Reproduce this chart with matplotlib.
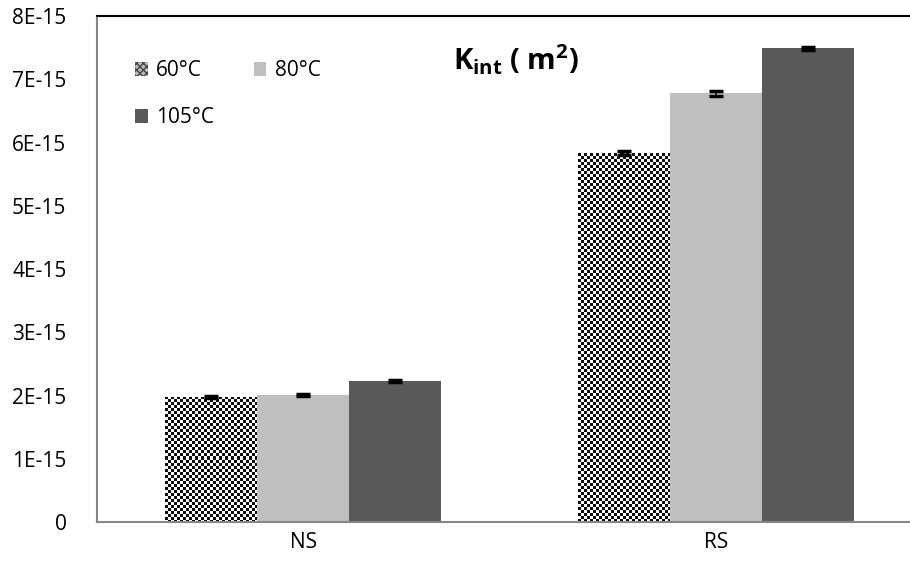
import matplotlib
matplotlib.use("Agg")
import matplotlib.pyplot as plt
import numpy as np
from matplotlib.patches import Patch

plt.rcParams['font.family'] = ['Open Sans', 'DejaVu Sans']
plt.rcParams['mathtext.fontset'] = 'custom'
plt.rcParams['mathtext.rm'] = 'Open Sans'
plt.rcParams['mathtext.bf'] = 'Open Sans:bold'

categories = ["NS", "RS"]
series_names = ["60°C", "80°C", "105°C"]
values = {
    "60°C": [1.98e-15, 5.83e-15],
    "80°C": [2.01e-15, 6.78e-15],
    "105°C": [2.23e-15, 7.49e-15],
}
errors = {
    "60°C": [0.02e-15, 0.03e-15],
    "80°C": [0.02e-15, 0.04e-15],
    "105°C": [0.02e-15, 0.02e-15],
}
yticks = [0, 1e-15, 2e-15, 3e-15, 4e-15, 5e-15, 6e-15, 7e-15, 8e-15]
ytick_labels = ["0", "1E-15", "2E-15", "3E-15", "4E-15", "5E-15", "6E-15", "7E-15", "8E-15"]

colors = {"60°C": "#8c8c8c", "80°C": "#bfbfbf", "105°C": "#595959"}

fig = plt.figure(figsize=(9.1, 5.72), dpi=100)
W, H = 910, 572
ax = fig.add_axes([97 / W, (H - 522) / H, (922 - 97) / W, (522 - 16) / H])

x = np.arange(len(categories))
bw = 0.223
offsets = [-bw, 0, bw]

bars_all = {}
for name, off in zip(series_names, offsets):
    bars = ax.bar(x + off, values[name], width=bw, color=colors[name],
                  edgecolor='none', zorder=2,
                  yerr=errors[name], error_kw=dict(ecolor='black', elinewidth=1.2,
                                                   capsize=5, capthick=2.5, zorder=4))
    bars_all[name] = bars

ax.set_xlim(-0.5, 1.5)
ax.set_ylim(0, 8e-15)

# checker pattern inside 60°C bars (pixel-aligned cells)
fig.canvas.draw()
for b in bars_all["60°C"]:
    x0, y0 = b.get_x(), b.get_y()
    w, h = b.get_width(), b.get_height()
    p0 = ax.transData.transform((x0, y0))
    p1 = ax.transData.transform((x0 + w, y0 + h))
    nx = int(round(abs(p1[0] - p0[0])))
    ny = int(round(abs(p1[1] - p0[1])))
    img = (((np.arange(ny)[:, None] // 3) + (np.arange(nx)[None, :] // 3)) % 2)
    im = ax.imshow(img, cmap='gray', vmin=-0.05, vmax=1.0, extent=(x0, x0 + w, y0, y0 + h),
                   aspect='auto', interpolation='none', zorder=2.5)
    im.set_clip_path(b)

ax.set_xlim(-0.5, 1.5)
ax.set_ylim(0, 8e-15)
ax.set_yticks(yticks)
ax.set_yticklabels(ytick_labels)
ax.set_xticks(x)
ax.set_xticklabels(categories)

ax.spines['right'].set_visible(False)
ax.spines['top'].set_color('black')
ax.spines['top'].set_linewidth(1.5)
ax.spines['left'].set_color('#868686')
ax.spines['left'].set_linewidth(1.5)
ax.spines['bottom'].set_color('#868686')
ax.spines['bottom'].set_linewidth(1.5)
ax.tick_params(axis='both', length=0, labelsize=15, colors='black')
ax.tick_params(axis='y', pad=22)
ax.tick_params(axis='x', pad=7)

order = ["60°C", "105°C", "80°C"]
handles = [Patch(facecolor=colors[n], edgecolor='none') for n in order]
leg = ax.legend(handles, order, ncol=2, loc='upper left',
                bbox_to_anchor=(30 / 825, 1 - 36 / 506), frameon=False,
                fontsize=15, handlelength=0.6, handleheight=0.6, handletextpad=0.4,
                columnspacing=1.9, labelspacing=1.25, borderaxespad=0)
lh = leg.legend_handles[0]
lh.set_hatch('xxxxx')
lh.set_edgecolor('#444444')
lh.set_linewidth(0)
lh.set_facecolor('#bbbbbb')

fig.text(516 / W, 1 - 60 / H, r'$\mathbf{K_{int}}$' + r' $\mathbf{(}$ $\mathbf{m^2)}$',
         ha='center', va='center', fontsize=21, fontweight='bold')

fig.savefig("out.png", dpi=100)
